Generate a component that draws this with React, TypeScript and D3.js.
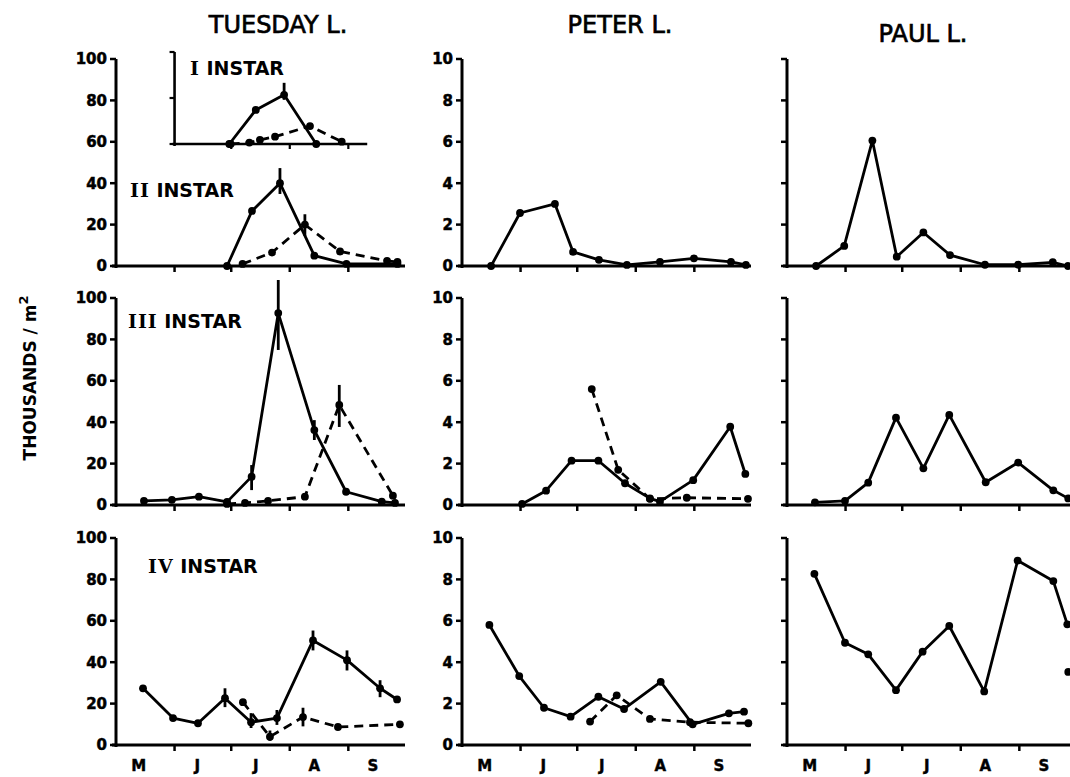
import React from "react";
import * as d3 from "d3";

// ---------- data (x = days since 1 May, y = thousands / m2) ----------
const lakes = ["TUESDAY L.", "PETER L.", "PAUL L."];
const instars = ["I", "II", "III", "IV"];
const monthLabels = ["M", "J", "J", "A", "S"];
const monthLabelDays = [12, 43, 74, 105, 136];
const monthTickDays = [31, 61, 92, 123];
const seasonDays = [0, 153];
const tuesdayTicks = [0, 20, 40, 60, 80, 100];
const smallTicks = [0, 2, 4, 6, 8, 10];
const insetTicks = [0, 10, 20];
const insetDays = [31, 133];
const insetTickDays = [61, 92, 123];

type P = [number, number];
type E = [number, number, number];

// Tuesday Lake
const tueI_solid: P[] = [[60, 0], [74, 7.4], [89, 10.7], [106, 0]];
const tueI_dashed: P[] = [[60.7, 0], [70.6, 0.3], [76.2, 0.9], [84.2, 1.6], [102.7, 3.9], [119.5, 0.5]];
const tueI_err: E[] = [[89, 9.6, 13.3]];

const tueII_solid: P[] = [[58.8, 0], [72, 26.6], [86.8, 40], [105, 5], [122, 1], [149, 1]];
const tueII_dashed: P[] = [[67, 1], [82.6, 6.5], [100, 20], [118.6, 7], [143.5, 2.5], [149, 2]];
const tueII_err: E[] = [[86.8, 34.8, 47.3], [100, 14.5, 25]];

const tueIII_solid: P[] = [[14.8, 2], [29.6, 2.5], [43.9, 4], [58.8, 1.5], [71.8, 13.7], [85.9, 92.7], [105, 36.2], [121.8, 6.4], [140.7, 1.6], [147.7, 1]];
const tueIII_dashed: P[] = [[58.8, 0.5], [68.3, 1], [80.5, 2], [100, 4], [118.2, 48.3], [146.6, 4.5]];
const tueIII_err: E[] = [[71.8, 7.2, 19.3], [85.9, 74.9, 108.7], [105, 31.4, 41], [118.2, 37.7, 58]];

const tueIV_solid: P[] = [[14.3, 27.4], [30.2, 13], [43.4, 10.5], [57.7, 22.6], [71.5, 11], [85.2, 13], [104.3, 50.5], [122.3, 41], [139.8, 27.4], [148.8, 22]];
const tueIV_dashed: P[] = [[67.2, 20.7], [81.5, 4], [99, 13.5], [117.5, 8.7], [150.3, 10]];
const tueIV_err: E[] = [[57.7, 18.3, 27.4], [71.5, 8.2, 15.4], [85.2, 9.7, 16.9], [104.3, 45.7, 55.3], [122.3, 36, 45.7], [139.8, 23.1, 31.3], [81.5, 2, 7], [99, 9, 18]];

// Peter Lake
const petII_solid: P[] = [[15.4, 0], [30.7, 2.56], [49.2, 3.0], [58.8, 0.68], [72.5, 0.3], [87.3, 0.05], [104.8, 0.2], [122.8, 0.37], [142.4, 0.2], [150.3, 0.05]];
const petIII_solid: P[] = [[31.8, 0.05], [44.5, 0.69], [58, 2.14], [72.2, 2.14], [86.3, 1.05], [99.5, 0.32], [104.8, 0.16], [122.4, 1.2], [142, 3.78], [150, 1.5]];
const petIII_dashed: P[] = [[68.7, 5.6], [82.7, 1.7], [99.5, 0.3], [119, 0.35], [151.4, 0.3]];
const petIV_solid: P[] = [[14.5, 5.8], [30.3, 3.33], [43.4, 1.8], [57.5, 1.37], [72.2, 2.33], [85.8, 1.74], [105.2, 3.05], [122.1, 1.0], [141.3, 1.53], [149.3, 1.61]];
const petIV_dashed: P[] = [[67.8, 1.13], [81.9, 2.4], [99.5, 1.26], [120.7, 1.1], [151.6, 1.05]];

// Paul Lake
const paulII_solid: P[] = [[15.4, 0], [30.3, 0.97], [45.2, 6.06], [58.1, 0.45], [72.2, 1.62], [86.3, 0.53], [104.8, 0.06], [122.4, 0.06], [140.7, 0.18], [148.8, 0]];
const paulIII_solid: P[] = [[14.8, 0.13], [30.7, 0.2], [43, 1.08], [57.7, 4.22], [72.2, 1.77], [85.9, 4.35], [105.2, 1.1], [122.4, 2.05], [141, 0.71], [148.9, 0.32]];
const paulIV_solid: P[] = [[14.5, 8.27], [30.7, 4.94], [43, 4.38], [57.7, 2.65], [71.8, 4.51], [85.9, 5.75], [104.4, 2.59], [122.1, 8.91], [141, 7.92], [148.4, 5.83]];
const paulIV_dashed: P[] = [[148.9, 3.53]];

// ---------- layout ----------
const W = 1070, H = 777;
const colX = [116, 462, 787];
const rowY = [266, 505, 745];
const plotW = 289, plotH = 207;
const FONT = "'DejaVu Sans', sans-serif";
const SERIF = "'DejaVu Serif', serif";
const LW = 2.8;

type Series = { pts: P[]; dashed: boolean };

function Lines({ series, x, y }: { series: Series[]; x: (v: number) => number; y: (v: number) => number }) {
  const line = d3.line<P>().x((d) => x(d[0])).y((d) => y(d[1]));
  return (
    <g>
      {series.map((s, i) => (
        <g key={i}>
          <path d={line(s.pts) || ""} fill="none" stroke="#000" strokeWidth={LW}
            strokeDasharray={s.dashed ? "9,6" : undefined} strokeLinejoin="round" />
          {s.pts.map((p, j) => (
            <circle key={j} cx={x(p[0])} cy={y(p[1])} r={3.9} fill="#000" />
          ))}
        </g>
      ))}
    </g>
  );
}

function ErrBars({ errs, x, y }: { errs: E[]; x: (v: number) => number; y: (v: number) => number }) {
  return (
    <g>
      {errs.map((e, i) => (
        <line key={i} x1={x(e[0])} x2={x(e[0])} y1={y(e[1])} y2={y(e[2])} stroke="#000" strokeWidth={LW} />
      ))}
    </g>
  );
}

function Panel(props: {
  col: number; row: number; max: number; ticks: number[]; labels: boolean;
  series: Series[]; errs?: E[]; monthText?: boolean;
}) {
  const x0 = colX[props.col];
  const y0 = rowY[props.row];
  const x = d3.scaleLinear().domain(seasonDays).range([x0, x0 + plotW]);
  const y = d3.scaleLinear().domain([0, props.max]).range([y0, y0 - plotH]);
  return (
    <g>
      <line x1={x0} x2={x0} y1={y0 + 2} y2={y(props.max)} stroke="#000" strokeWidth={3} />
      <line x1={x0 - 4} x2={x(seasonDays[1])} y1={y0} y2={y0} stroke="#000" strokeWidth={3} />
      {props.ticks.map((t) => (
        <g key={t}>
          <line x1={x0 - 6} x2={x0} y1={y(t)} y2={y(t)} stroke="#000" strokeWidth={2.5} />
          {props.labels && (
            <text x={x0 - 9} y={y(t)} dy="0.36em" textAnchor="end" fontFamily={FONT}
              fontWeight="bold" fontSize={15} stroke="#000" strokeWidth={0.5}>{t}</text>
          )}
        </g>
      ))}
      {monthTickDays.map((d) => (
        <line key={d} x1={x(d)} x2={x(d)} y1={y0} y2={y0 + 6} stroke="#000" strokeWidth={2.5} />
      ))}
      {props.monthText && monthLabels.map((m, i) => (
        <text key={i} x={x(monthLabelDays[i])} y={771} textAnchor="middle" fontFamily={FONT}
          fontWeight="bold" fontSize={15} stroke="#000" strokeWidth={0.4}>{m}</text>
      ))}
      <Lines series={props.series} x={x} y={y} />
      {props.errs && <ErrBars errs={props.errs} x={x} y={y} />}
    </g>
  );
}

function Inset() {
  const x = d3.scaleLinear().domain(seasonDays).range([colX[0], colX[0] + plotW]);
  const y = d3.scaleLinear().domain([0, 20]).range([144, 52]);
  const xa = x(insetDays[0]);
  return (
    <g>
      <line x1={xa} x2={xa} y1={y(0) + 2} y2={y(insetTicks[2])} stroke="#000" strokeWidth={2.6} />
      <line x1={xa - 2} x2={x(insetDays[1])} y1={y(0)} y2={y(0)} stroke="#000" strokeWidth={2.6} />
      {insetTicks.map((t) => (
        <line key={t} x1={xa - 5} x2={xa} y1={y(t)} y2={y(t)} stroke="#000" strokeWidth={2.2} />
      ))}
      {insetTickDays.map((d) => (
        <line key={d} x1={x(d)} x2={x(d)} y1={y(0)} y2={y(0) + 5} stroke="#000" strokeWidth={2.2} />
      ))}
      <Lines series={[{ pts: tueI_solid, dashed: false }, { pts: tueI_dashed, dashed: true }]} x={x} y={y} />
      <ErrBars errs={tueI_err} x={x} y={y} />
    </g>
  );
}

function InstarLabel({ n, x, y }: { n: string; x: number; y: number }) {
  return (
    <text x={x} y={y} fontFamily={FONT} fontWeight="bold" fontSize={19}>
      <tspan fontFamily={SERIF} letterSpacing={1}>{n}</tspan>
      <tspan> INSTAR</tspan>
    </text>
  );
}

export default function App() {
  return (
    <svg width={W} height={H} viewBox={`0 0 ${W} ${H}`}
      style={{ position: "absolute", left: 0, top: 0, background: "#fff" }}>
      <rect width={W} height={H} fill="#fff" />
      <g fontFamily={FONT} fontSize={24} textAnchor="middle" stroke="#000" strokeWidth={0.7}>
        <text x={278} y={33}>{lakes[0]}</text>
        <text x={620} y={33}>{lakes[1]}</text>
        <text x={923} y={42}>{lakes[2]}</text>
      </g>

      <text transform="translate(36,378) rotate(-90)" textAnchor="middle" fontFamily={FONT}
        fontWeight="bold" fontSize={17}>
        THOUSANDS / m<tspan dy={-8} fontSize={13}>2</tspan>
      </text>

      {/* Tuesday */}
      <Panel col={0} row={0} max={100} ticks={tuesdayTicks} labels
        series={[{ pts: tueII_solid, dashed: false }, { pts: tueII_dashed, dashed: true }]} errs={tueII_err} />
      <Inset />
      <Panel col={0} row={1} max={100} ticks={tuesdayTicks} labels
        series={[{ pts: tueIII_solid, dashed: false }, { pts: tueIII_dashed, dashed: true }]} errs={tueIII_err} />
      <Panel col={0} row={2} max={100} ticks={tuesdayTicks} labels monthText
        series={[{ pts: tueIV_solid, dashed: false }, { pts: tueIV_dashed, dashed: true }]} errs={tueIV_err} />
      <InstarLabel n={instars[0]} x={190} y={75} />
      <InstarLabel n={instars[1]} x={130} y={197} />
      <InstarLabel n={instars[2]} x={128} y={328} />
      <InstarLabel n={instars[3]} x={148} y={573} />

      {/* Peter */}
      <Panel col={1} row={0} max={10} ticks={smallTicks} labels
        series={[{ pts: petII_solid, dashed: false }]} />
      <Panel col={1} row={1} max={10} ticks={smallTicks} labels
        series={[{ pts: petIII_solid, dashed: false }, { pts: petIII_dashed, dashed: true }]} />
      <Panel col={1} row={2} max={10} ticks={smallTicks} labels monthText
        series={[{ pts: petIV_solid, dashed: false }, { pts: petIV_dashed, dashed: true }]} />

      {/* Paul */}
      <Panel col={2} row={0} max={10} ticks={smallTicks} labels={false}
        series={[{ pts: paulII_solid, dashed: false }]} />
      <Panel col={2} row={1} max={10} ticks={smallTicks} labels={false}
        series={[{ pts: paulIII_solid, dashed: false }]} />
      <Panel col={2} row={2} max={10} ticks={smallTicks} labels={false} monthText
        series={[{ pts: paulIV_solid, dashed: false }, { pts: paulIV_dashed, dashed: true }]} />
    </svg>
  );
}
